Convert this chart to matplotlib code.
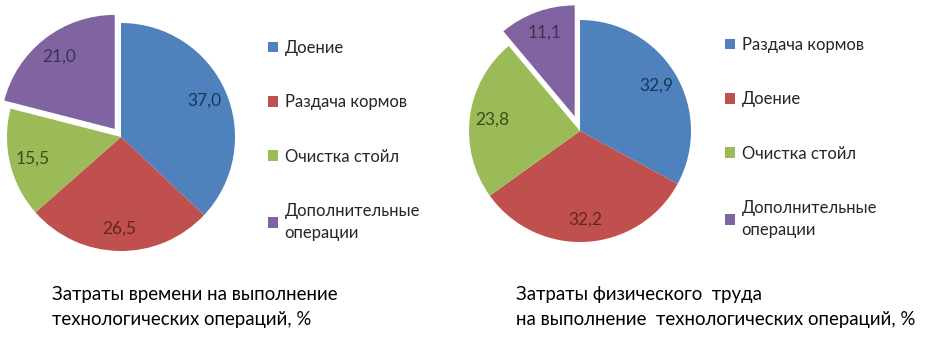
import matplotlib.pyplot as plt

W, H = 941, 337

# data
labels_time = ['Доение', 'Раздача кормов', 'Очистка стойл', 'Дополнительные\nоперации']
values_time = [37.0, 26.5, 15.5, 21.0]

labels_labor = ['Раздача кормов', 'Доение', 'Очистка стойл', 'Дополнительные\nоперации']
values_labor = [32.9, 32.2, 23.8, 11.1]

colors = ['#4F81BD', '#C0504D', '#9BBB59', '#8064A2']
text_colors = ['#17375E', '#632523', '#3B4E17', '#3F3151']

caption_time = 'Затраты времени на выполнение\nтехнологических операций, %'
caption_labor = 'Затраты физического  труда\nна выполнение  технологических операций, %'

plt.rcParams['font.family'] = ['Lato', 'DejaVu Sans']

fig = plt.figure(figsize=(W / 100, H / 100), dpi=100)


def pie_axes(cx, cy, r, pad=1.3):
    # axes placed so the pie centre/radius land on given pixel spots
    s = r * pad
    return fig.add_axes([(cx - s) / W, (H - cy - s) / H, 2 * s / W, 2 * s / H]), pad


def draw(cx, cy, r, values, labels, explode, leg_x, leg_y):
    ax, pad = pie_axes(cx, cy, r)
    wedges, _, autotexts = ax.pie(
        values, colors=colors, startangle=90, counterclock=False,
        explode=explode, pctdistance=0.8,
        autopct=lambda p: f'{p:.1f}'.replace('.', ','),
        wedgeprops=dict(linewidth=0),
        textprops=dict(fontsize=12.5))
    for t, c in zip(autotexts, text_colors):
        t.set_color(c)
    ax.set_xlim(-pad, pad)
    ax.set_ylim(-pad, pad)
    leg = fig.legend(wedges, labels, loc='upper left',
                     bbox_to_anchor=(leg_x / W, 1 - leg_y / H),
                     frameon=False, fontsize=12, handlelength=0.6, handleheight=0.6,
                     handletextpad=0.4, labelspacing=2.3, borderpad=0, borderaxespad=0,
                     labelcolor='#262626')
    for t in leg.get_texts():
        t.set_linespacing(1.45)
    return ax


draw(121, 137, 114, values_time, labels_time, [0, 0, 0, 0.09], 268, 40)
draw(580, 131, 111, values_labor, labels_labor, [0, 0, 0, 0.14], 725, 37)

fig.text(52 / W, 1 - 286 / H, caption_time, ha='left', va='top', fontsize=13.4,
         linespacing=1.55)
fig.text(516 / W, 1 - 286 / H, caption_labor, ha='left', va='top', fontsize=13.4,
         linespacing=1.55)

fig.savefig('out.png', dpi=100)
